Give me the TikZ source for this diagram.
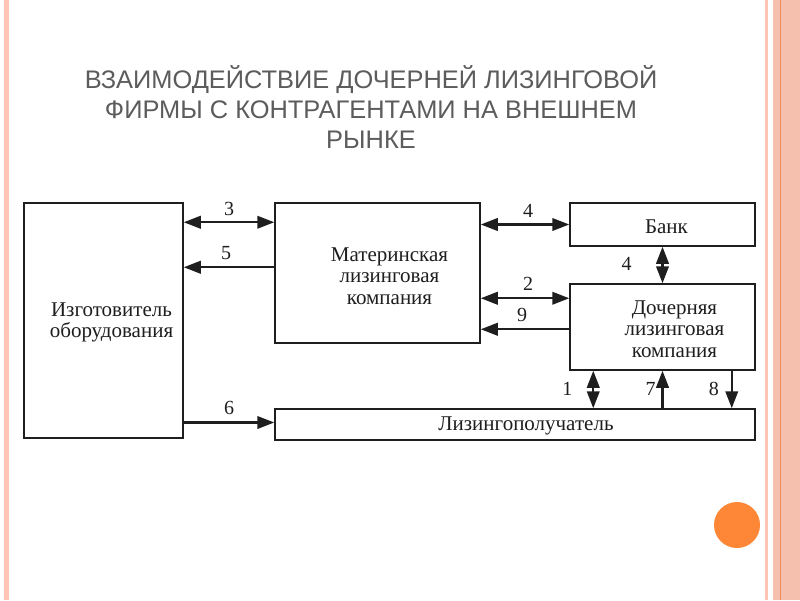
\documentclass[tikz,border=0pt]{standalone}
\usepackage{fontspec}
\setmainfont{Liberation Serif}
\newfontfamily\titlefont{Liberation Sans}
\usetikzlibrary{arrows.meta,calc}
\definecolor{stripe}{HTML}{FFC4B4}
\definecolor{band}{HTML}{F5C1AE}
\definecolor{bandline}{HTML}{EE8A55}
\definecolor{dot}{HTML}{FD8737}
\definecolor{titlegrey}{HTML}{5C5C5C}
\definecolor{ink}{HTML}{1E1E1E}
\tikzset{
  box/.style={draw=ink, line width=1.5pt, inner sep=0pt},
  boxtext/.style={font=\fontsize{21}{21.5}\selectfont, align=center, text=ink},
  lbl/.style={font=\fontsize{20}{21}\selectfont, text=ink, inner sep=1pt},
  conn/.style={draw=ink, line width=2.3pt},
  sgl/.style={conn, -{Triangle[length=17pt,width=12.5pt]}},
  dbl/.style={conn, {Triangle[length=17pt,width=12.5pt]}-{Triangle[length=17pt,width=12.5pt]}},
}
\begin{document}
\begin{tikzpicture}[x=1pt,y=-1pt]
\useasboundingbox (0,0) rectangle (800,600);
\fill[white] (0,0) rectangle (800,600);
% slide decorations
\fill[stripe] (4,0) rectangle (9,600);
\fill[stripe] (765,0) rectangle (768,600);
\fill[band] (773,0) rectangle (800,600);
\draw[bandline, line width=1pt] (780.5,0) -- (780.5,600);
\fill[dot] (737,525) circle (23);
% title
\node[font=\titlefont\fontsize{25.4}{30}\selectfont, text=titlegrey, align=center] (title) at (371,107)
  {ВЗАИМОДЕЙСТВИЕ ДОЧЕРНЕЙ ЛИЗИНГОВОЙ\\ФИРМЫ С КОНТРАГЕНТАМИ НА ВНЕШНЕМ\\РЫНКЕ};
% boxes
\node[box, minimum width=159pt, minimum height=235pt,
  label={[boxtext, xshift=8pt, yshift=-2pt]center:Изготовитель\\оборудования}] (izg) at (103.5,320.5) {};
\node[box, minimum width=205pt, minimum height=140pt,
  label={[boxtext, xshift=12pt, yshift=-3pt]center:Материнская\\лизинговая\\компания}] (mat) at (377.5,273) {};
\node[box, minimum width=185pt, minimum height=43pt,
  label={[boxtext, xshift=4pt, yshift=-2pt]center:Банк}] (bank) at (662.5,224.5) {};
\node[box, minimum width=185pt, minimum height=86pt,
  label={[boxtext, xshift=12pt, yshift=-2pt]center:Дочерняя\\лизинговая\\компания}] (doch) at (662.5,327) {};
\node[box, minimum width=480pt, minimum height=31pt,
  label={[boxtext, xshift=11pt, yshift=-1pt]center:Лизингополучатель}] (liz) at (515,424.5) {};
% connectors
\draw[dbl] ([yshift=-20pt]izg.north east) -- node[lbl, yshift=13pt] {3} ([yshift=-20pt]mat.north west);
\draw[sgl] ([yshift=-65pt]mat.north west) -- node[lbl, yshift=14pt, xshift=-3pt] {5} ([yshift=-65pt]izg.north east);
\draw[sgl] ([yshift=2pt]izg.east |- liz.west) -- node[lbl, yshift=15pt] {6} ([yshift=2pt]liz.west);
\draw[dbl] (mat.east |- bank.west) -- node[lbl, yshift=14pt, xshift=3pt] {4} (bank.west);
\draw[dbl] ([yshift=-96pt]mat.north east) -- node[lbl, yshift=14pt, xshift=3pt] {2} ([yshift=-15pt]doch.north west);
\draw[sgl] ([yshift=-46pt]doch.north west) -- node[lbl, yshift=14pt, xshift=-3pt] {9} ([yshift=-127pt]mat.north east);
\draw[dbl] (bank.south) -- node[lbl, xshift=-36pt, yshift=1pt] {4} (doch.north);
\coordinate (c1) at ([xshift=24pt]doch.south west);
\coordinate (c8) at ([xshift=-24pt]doch.south east);
\draw[dbl] (c1) -- node[lbl, xshift=-26pt, yshift=1pt] {1} (c1 |- liz.north);
\draw[sgl] (doch.south |- liz.north) -- node[lbl, xshift=-12pt, yshift=1pt] {7} (doch.south);
\draw[sgl] (c8) -- node[lbl, xshift=-18pt, yshift=1pt] {8} (c8 |- liz.north);
\end{tikzpicture}
\end{document}
